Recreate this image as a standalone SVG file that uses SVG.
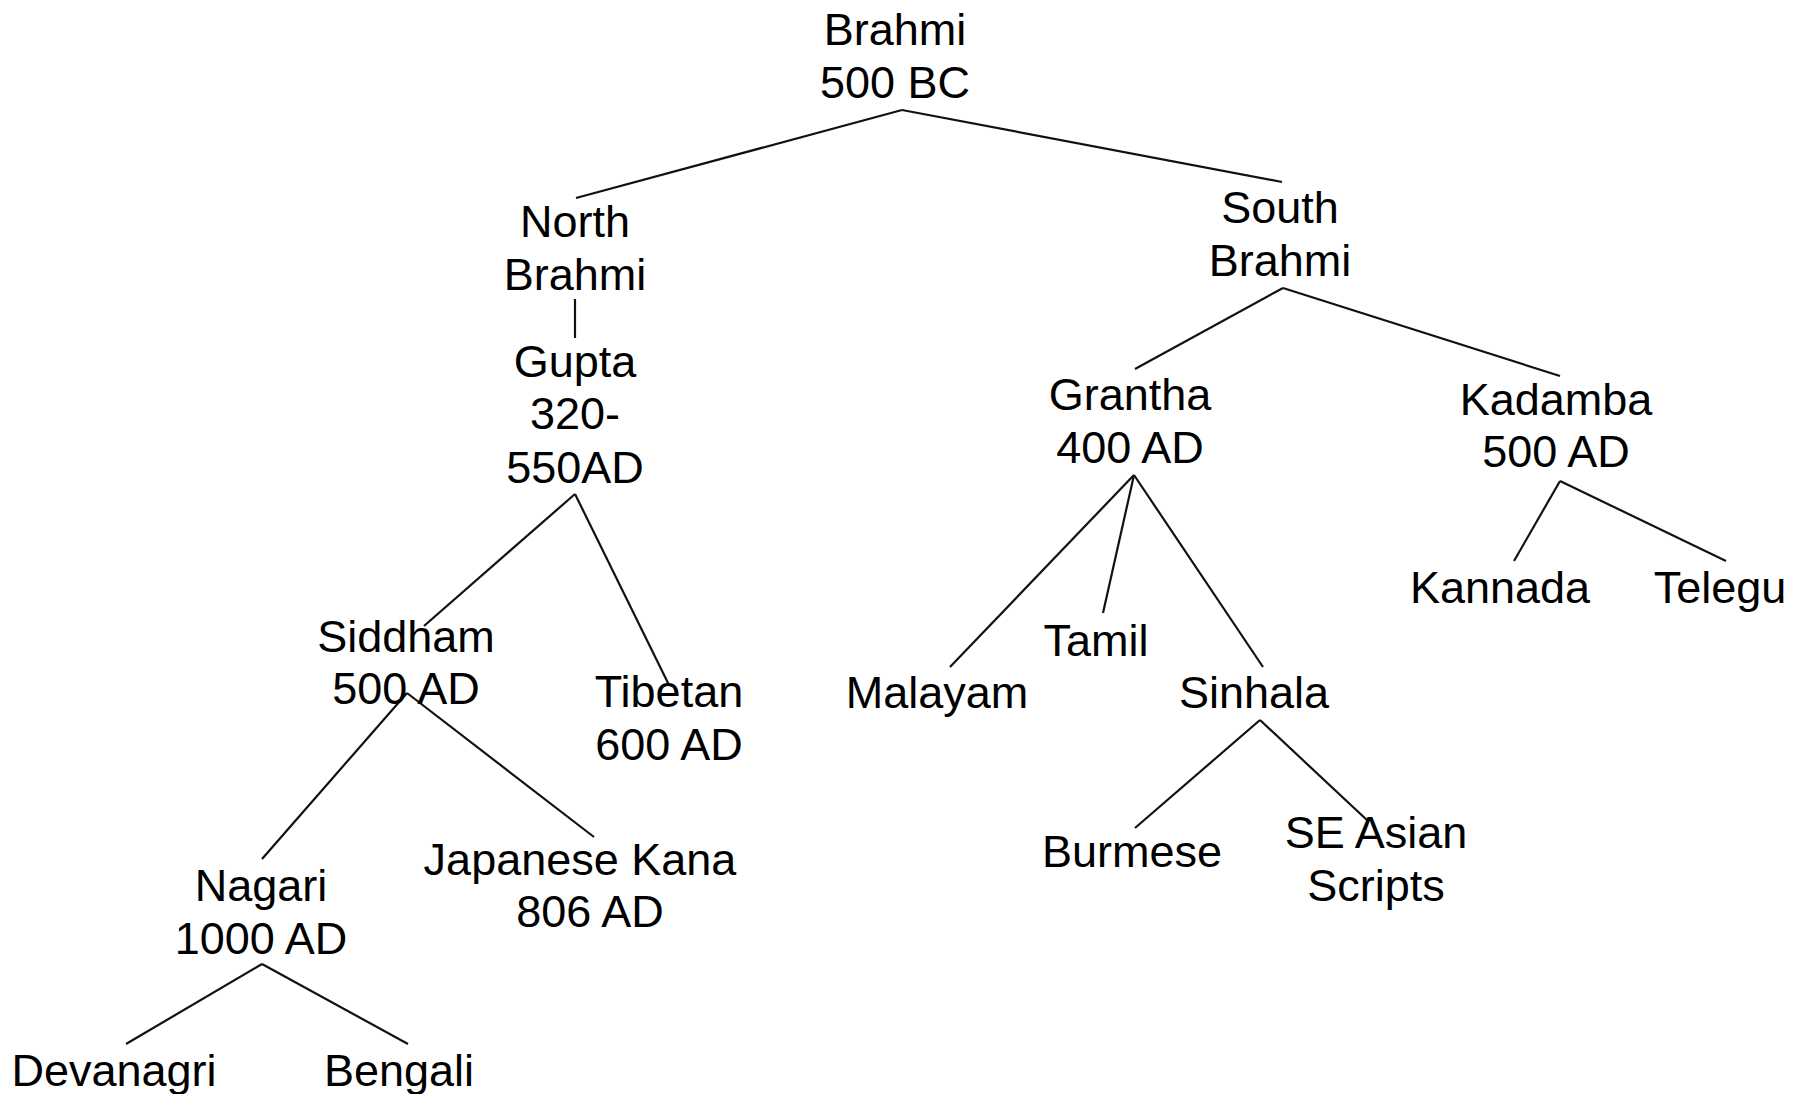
<svg xmlns="http://www.w3.org/2000/svg" width="1808" height="1094" viewBox="0 0 1808 1094">
<style>
text{font-family:"Liberation Sans",Arial,sans-serif;font-size:45px;fill:#000;text-anchor:middle}
.c line{stroke:#111;stroke-width:2.2;fill:none}
</style>
<rect width="1808" height="1094" fill="#fff"/>
<g id="connectors" class="c">
<line x1="902" y1="110" x2="576" y2="198"/>
<line x1="902" y1="110" x2="1282" y2="182"/>
<line x1="575" y1="299" x2="575" y2="338"/>
<line x1="575" y1="494" x2="424" y2="626"/>
<line x1="575" y1="494" x2="669" y2="685"/>
<line x1="407" y1="693" x2="262" y2="859"/>
<line x1="407" y1="693" x2="594" y2="837"/>
<line x1="262" y1="964" x2="126" y2="1044"/>
<line x1="262" y1="964" x2="408" y2="1044"/>
<line x1="1283" y1="288" x2="1135" y2="369"/>
<line x1="1283" y1="288" x2="1560" y2="376"/>
<line x1="1134" y1="475" x2="950" y2="667"/>
<line x1="1134" y1="475" x2="1103" y2="613"/>
<line x1="1134" y1="475" x2="1263" y2="667"/>
<line x1="1560" y1="481" x2="1514" y2="561"/>
<line x1="1560" y1="481" x2="1726" y2="561"/>
<line x1="1260" y1="720" x2="1135" y2="828"/>
<line x1="1260" y1="720" x2="1368" y2="821"/>
</g>
<g id="brahmi"><text x="895" y="45">Brahmi</text><text x="895" y="98">500 BC</text></g>
<g id="north-brahmi"><text x="575" y="237">North</text><text x="575" y="290">Brahmi</text></g>
<g id="gupta"><text x="575" y="377">Gupta</text><text x="575" y="429">320-</text><text x="575" y="483">550AD</text></g>
<g id="south-brahmi"><text x="1280" y="223">South</text><text x="1280" y="276">Brahmi</text></g>
<g id="grantha"><text x="1130" y="410">Grantha</text><text x="1130" y="463">400 AD</text></g>
<g id="kadamba"><text x="1556" y="415">Kadamba</text><text x="1556" y="467">500 AD</text></g>
<g id="siddham"><text x="406" y="652">Siddham</text><text x="406" y="704">500 AD</text></g>
<g id="tibetan"><text x="669" y="707">Tibetan</text><text x="669" y="760">600 AD</text></g>
<g id="malayam"><text x="937" y="708">Malayam</text></g>
<g id="tamil"><text x="1096" y="656">Tamil</text></g>
<g id="sinhala"><text x="1254" y="708">Sinhala</text></g>
<g id="kannada"><text x="1500" y="603">Kannada</text></g>
<g id="telegu"><text x="1720" y="603">Telegu</text></g>
<g id="nagari"><text x="261" y="901">Nagari</text><text x="261" y="954">1000 AD</text></g>
<g id="japanese-kana"><text x="580" y="875">Japanese Kana</text><text x="590" y="927">806 AD</text></g>
<g id="burmese"><text x="1132" y="867">Burmese</text></g>
<g id="se-asian"><text x="1376" y="848">SE Asian</text><text x="1376" y="901">Scripts</text></g>
<g id="devanagri"><text x="114" y="1086">Devanagri</text></g>
<g id="bengali"><text x="399" y="1086">Bengali</text></g>
</svg>
